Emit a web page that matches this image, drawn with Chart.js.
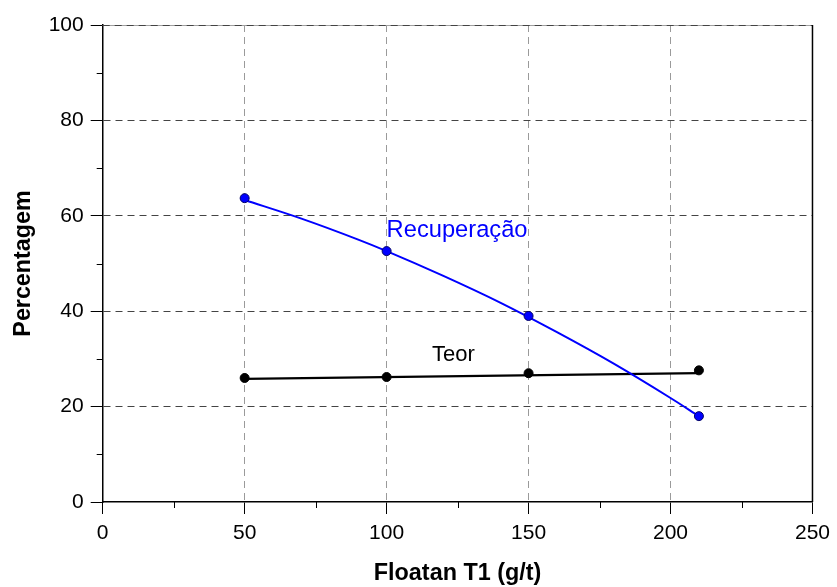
<!DOCTYPE html>
<html>
<head>
<meta charset="utf-8">
<script src="https://cdn.jsdelivr.net/npm/chart.js@4/dist/chart.umd.min.js"></script>
<style>
html,body{margin:0;padding:0;background:#fff;}
canvas{display:block;}
</style>
</head>
<body>
<canvas id="c" width="837" height="587"></canvas>
<script>
// ---- data ----
const dosage = [50, 100, 150, 210];              // Floatan T1 (g/t)
const recuperacao = [63.7, 52.6, 39.0, 18.0];    // measured points
const teor = [26.0, 26.2, 27.0, 27.6];           // measured points

// fitted curves
const recFitX = [50, 70, 90, 100, 120, 140, 160, 180, 200, 210];
const recFitY = [63.3, 59.4, 55.0, 52.6, 47.4, 41.8, 35.6, 29.0, 21.8, 18.0];
const teorFitX = [50, 210];
const teorFitY = [25.8, 27.0];

const xTicks = [0, 50, 100, 150, 200, 250];
const yTicks = [0, 20, 40, 60, 80, 100];
const xMinor = [25, 75, 125, 175, 225];
const yMinor = [10, 30, 50, 70, 90];

const seriesNames = ['Recuperação', 'Teor'];

const pts = (xs, ys) => xs.map((x, i) => ({x: x, y: ys[i]}));

const FONT = '"Liberation Sans", Arial, sans-serif';

const extras = {
  id: 'extras',
  beforeDatasetsDraw(chart) {
    const {ctx, chartArea: a} = chart;
    ctx.save();
    // top border (solid light) with dashed grid on it
    ctx.strokeStyle = '#a0a0a0';
    ctx.lineWidth = 1;
    ctx.beginPath();
    ctx.moveTo(a.left, a.top + 0.5);
    ctx.lineTo(a.right, a.top + 0.5);
    ctx.stroke();
    ctx.setLineDash([7, 5]);
    ctx.strokeStyle = '#444';
    ctx.beginPath();
    ctx.moveTo(a.left, a.top + 0.5);
    ctx.lineTo(a.right, a.top + 0.5);
    ctx.stroke();
    ctx.setLineDash([]);
    // right border
    ctx.strokeStyle = '#000';
    ctx.lineWidth = 1.5;
    ctx.beginPath();
    ctx.moveTo(a.right, a.top);
    ctx.lineTo(a.right, a.bottom);
    ctx.stroke();
    ctx.restore();
  },
  afterDraw(chart) {
    const {ctx, scales: {x, y}, chartArea: a} = chart;
    ctx.save();
    ctx.strokeStyle = '#000';
    ctx.lineWidth = 1;
    xMinor.forEach(v => {
      const px = Math.round(x.getPixelForValue(v)) + 0.5;
      ctx.beginPath();
      ctx.moveTo(px, a.bottom);
      ctx.lineTo(px, a.bottom + 6);
      ctx.stroke();
    });
    yMinor.forEach(v => {
      const py = Math.round(y.getPixelForValue(v)) + 0.5;
      ctx.beginPath();
      ctx.moveTo(a.left, py);
      ctx.lineTo(a.left - 6, py);
      ctx.stroke();
    });
    // series labels
    ctx.textBaseline = 'alphabetic';
    ctx.textAlign = 'left';
    ctx.fillStyle = '#0000ff';
    ctx.font = '23.7px ' + FONT;
    ctx.fillText(seriesNames[0], x.getPixelForValue(100), y.getPixelForValue(55.6));
    ctx.fillStyle = '#000';
    ctx.font = '22px ' + FONT;
    ctx.fillText(seriesNames[1], x.getPixelForValue(116), y.getPixelForValue(29.6));
    ctx.restore();
  }
};

new Chart(document.getElementById('c'), {
  type: 'scatter',
  data: {
    datasets: [
      {
        label: seriesNames[0],
        data: pts(dosage, recuperacao),
        pointRadius: 4.5,
        pointBackgroundColor: '#0000ff',
        pointBorderColor: '#000066',
        pointBorderWidth: 1,
        showLine: false
      },
      {
        label: seriesNames[1],
        data: pts(dosage, teor),
        pointRadius: 4.5,
        pointBackgroundColor: '#000',
        pointBorderColor: '#000',
        pointBorderWidth: 1,
        showLine: false
      },
      {
        label: seriesNames[0] + ' fit',
        data: pts(recFitX, recFitY),
        showLine: true,
        borderColor: '#0000ff',
        borderWidth: 2,
        pointRadius: 0,
        cubicInterpolationMode: 'monotone',
        fill: false
      },
      {
        label: seriesNames[1] + ' fit',
        data: pts(teorFitX, teorFitY),
        showLine: true,
        borderColor: '#000',
        borderWidth: 2.3,
        pointRadius: 0,
        fill: false
      }
    ]
  },
  options: {
    responsive: false,
    animation: false,
    devicePixelRatio: 1,
    layout: {padding: {top: 25, right: 23, left: 0, bottom: 0}},
    plugins: {legend: {display: false}, tooltip: {enabled: false}},
    scales: {
      x: {
        type: 'linear',
        min: 0, max: 250,
        afterBuildTicks: s => { s.ticks = xTicks.map(v => ({value: v})); },
        afterFit: s => { s.height = 85; },
        border: {display: true, color: '#000', width: 1.5, dash: [7, 5]},
        grid: {
          color: c => (c.tick && (c.tick.value === 0 || c.tick.value === 250)) ? 'rgba(0,0,0,0)' : '#9a9a9a',
          lineWidth: 1,
          tickLength: 12,
          tickColor: '#000',
          tickBorderDash: [],
          tickWidth: 1,
          drawTicks: true
        },
        ticks: {
          color: '#000',
          font: {family: FONT, size: 21},
          padding: 7,
          maxRotation: 0
        },
        title: {
          display: true,
          text: 'Floatan T1 (g/t)',
          color: '#000',
          font: {family: FONT, size: 23.4, weight: 'bold'},
          padding: {top: 0, bottom: -1}
        }
      },
      y: {
        type: 'linear',
        min: 0, max: 100,
        afterBuildTicks: s => { s.ticks = yTicks.map(v => ({value: v})); },
        afterFit: s => { s.width = 102.7; },
        border: {display: true, color: '#000', width: 1.5, dash: [7, 5]},
        grid: {
          color: c => (c.tick && (c.tick.value === 0 || c.tick.value === 100)) ? 'rgba(0,0,0,0)' : '#444',
          lineWidth: 1,
          tickLength: 12,
          tickColor: '#000',
          tickBorderDash: [],
          tickWidth: 1
        },
        ticks: {
          color: '#000',
          font: {family: FONT, size: 21},
          padding: 7
        },
        title: {
          display: true,
          text: 'Percentagem',
          color: '#000',
          font: {family: FONT, size: 23.3, weight: 'bold'},
          padding: {top: 10, bottom: 0}
        }
      }
    }
  },
  plugins: [extras]
});
</script>
</body>
</html>
